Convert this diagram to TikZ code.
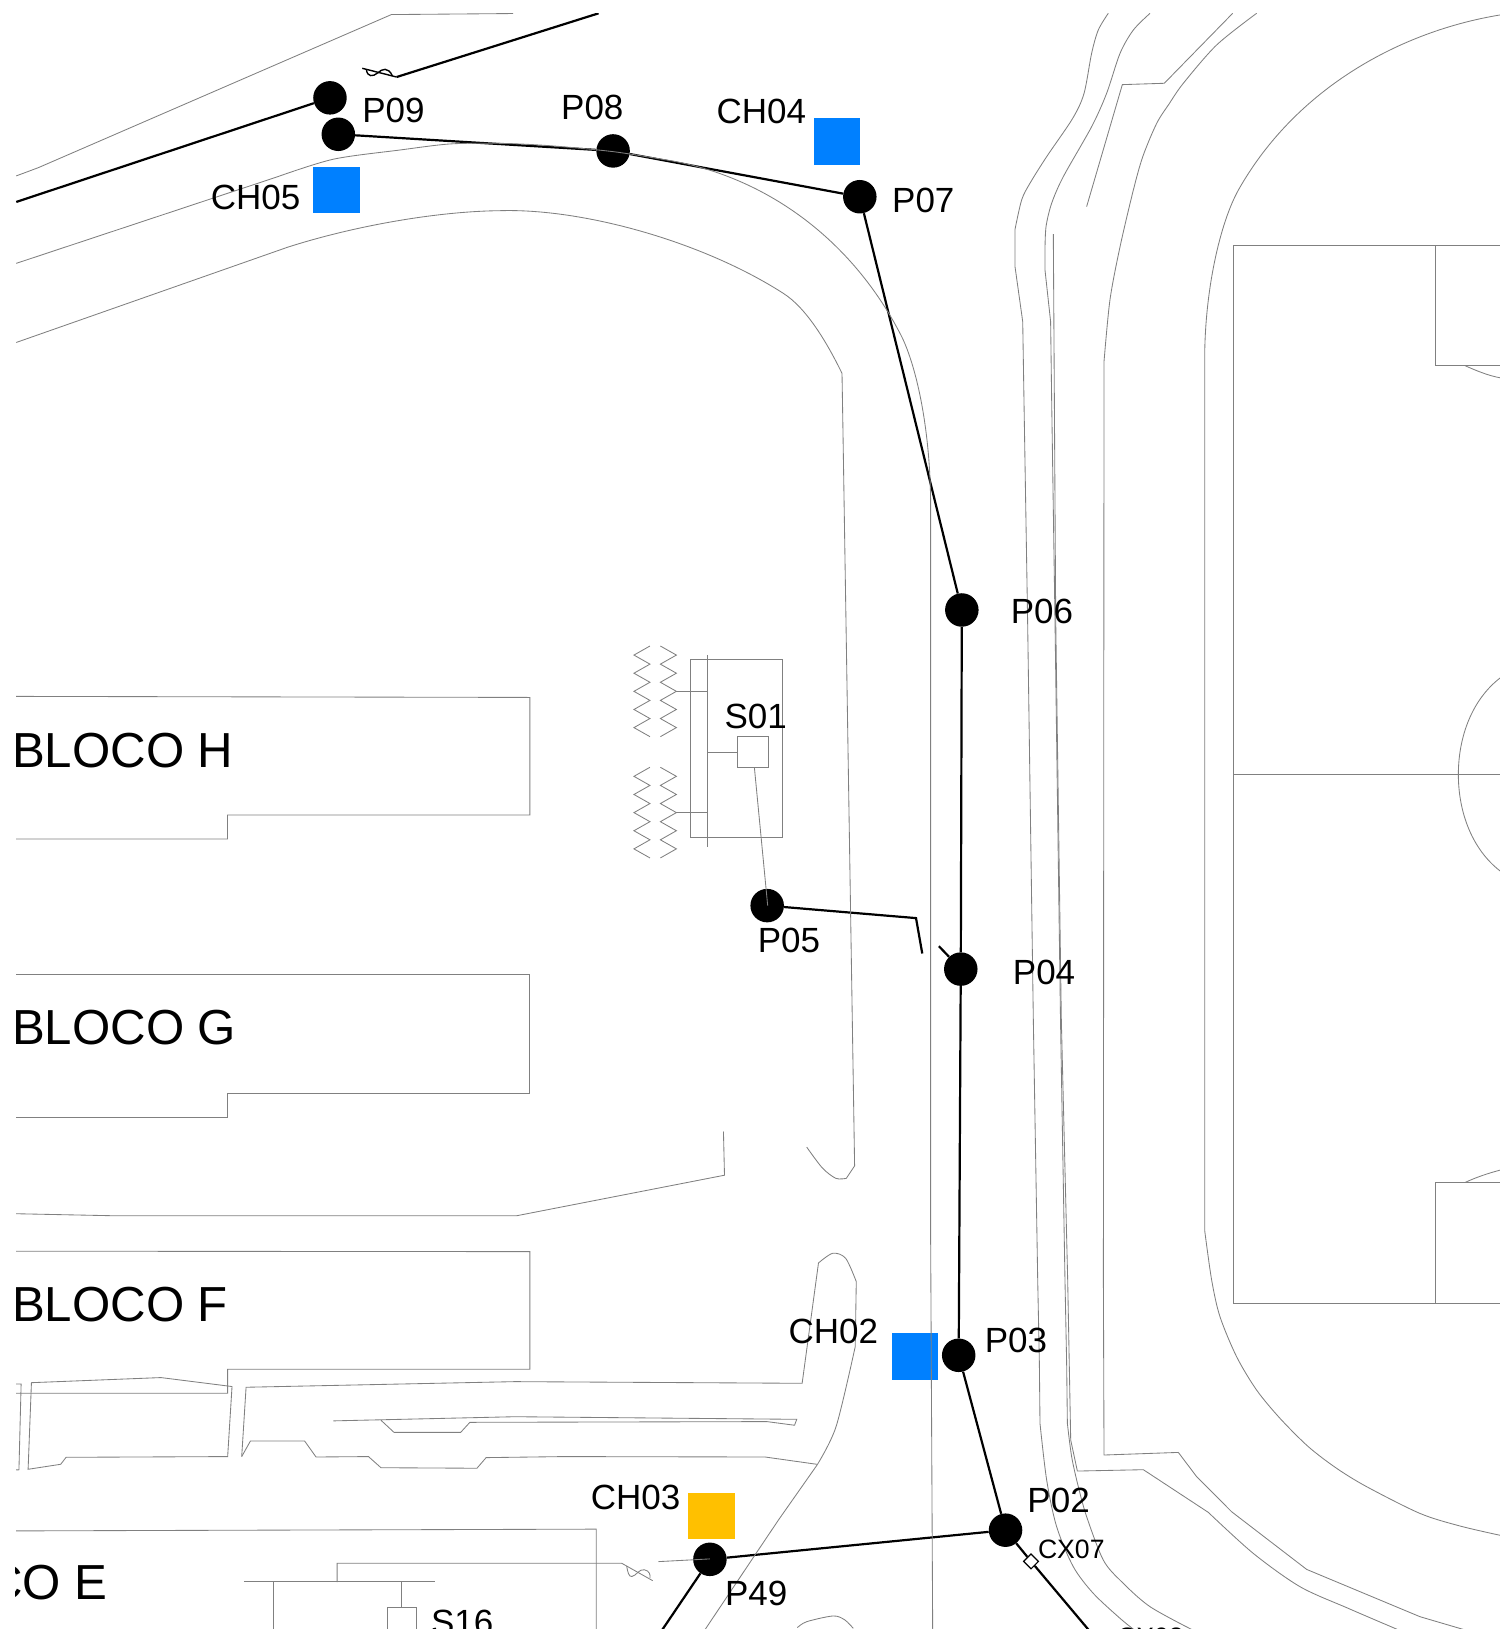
\documentclass[tikz,border=0pt]{standalone}
\usepackage{fontspec}
\setmainfont{Liberation Sans}
\newcommand{\zzdown}{-- ++(-15.4,8.71) -- ++(15.4,8.71) -- ++(-15.4,8.71) -- ++(15.4,8.71) -- ++(-15.4,8.71) -- ++(15.4,8.71) -- ++(-15.4,8.71) -- ++(15.4,8.71) -- ++(-15.4,8.71) -- ++(15.4,8.71)}
\newcommand{\zzup}{-- ++(15.4,8.71) -- ++(-15.4,8.71) -- ++(15.4,8.71) -- ++(-15.4,8.71) -- ++(15.4,8.71) -- ++(-15.4,8.71) -- ++(15.4,8.71) -- ++(-15.4,8.71) -- ++(15.4,8.71) -- ++(-15.4,8.71)}
\definecolor{chblue}{HTML}{0080FF}
\definecolor{chyellow}{HTML}{FFC000}
\tikzset{
  pole/.style={circle,fill=black,draw=none,minimum size=33.5bp,inner sep=0pt},
  chamber/.style={rectangle,draw=none,minimum size=46.5bp,inner sep=0pt},
  cable/.style={draw=black,line width=2.2bp},
  thincable/.style={draw=black,line width=1.4bp},
  base/.style={draw=black!50,line width=0.85bp,line join=miter},
  lbl/.style={font=\fontsize{35bp}{35bp}\selectfont,inner sep=0pt,anchor=base,text=black},
  lblsmall/.style={font=\fontsize{26.6bp}{27bp}\selectfont,inner sep=0pt,anchor=base west,text=black},
  block/.style={font=\fontsize{49.2bp}{50bp}\selectfont,inner sep=0pt,anchor=base west,text=black},
  marker/.style={rectangle,draw=black,fill=white,line width=1.2bp,minimum size=10.5bp,inner sep=0pt,rotate=45},
}
\begin{document}
\begin{tikzpicture}[x=1.04094bp,y=-1.04094bp]
\useasboundingbox (0bp,0bp) rectangle (1500bp,-1632bp);
\begin{scope}
\clip (14.6,12.8) rectangle (1441.5,1564.6);
% chambers
\node[chamber,fill=chblue] (ch05) at (323.5,182.5) {};
\node[chamber,fill=chblue] (ch04) at (804,136) {};
\node[chamber,fill=chblue] (ch02) at (879,1303.3) {};
\node[chamber,fill=chyellow] (ch03) at (683.4,1456.5) {};
% poles
\node[pole] (p09a) at (317,94) {};
\node[pole] (p09b) at (325,129) {};
\node[pole] (p08) at (589,145) {};
\node[pole] (p07) at (826,189) {};
\node[pole] (p06) at (924,586) {};
\node[pole] (p05) at (737,870) {};
\node[pole] (p04) at (923,931) {};
\node[pole] (p03) at (921,1302) {};
\node[pole] (p02) at (966,1470) {};
\node[pole] (p49) at (682,1498) {};
\node[marker] (cx07) at (990.5,1500) {};
% free ends
\coordinate (e1) at (15.6,194);
\coordinate (e2) at (575,12.8);
\coordinate (e3) at (381,74);
\coordinate (e4) at (348,65.6);
\coordinate (e5) at (880,882);
\coordinate (e6) at (886,916);
\coordinate (e7) at (902,909);
\coordinate (e8) at (1046,1566);
\coordinate (e9) at (636,1566);
% cables
\draw[cable] (e1) -- (p09a);
\draw[cable] (e2) -- (e3);
\draw[thincable] (e3) -- (e4);
\draw[thincable] (352,67) .. controls (353,74) and (358,74) .. (363,70) .. controls (367,66) and (373,64) .. (377,73);
\draw[cable] (p09b) -- (p08);
\draw[cable] (p08) -- (p07);
\draw[cable] (p07) -- (p06);
\draw[cable] (p06) -- (p04);
\draw[cable] (p04) -- (p03);
\draw[cable] (p03) -- (p02);
\draw[cable] (p02) -- (p49);
\draw[cable] (p02) -- (cx07);
\draw[cable] (cx07) -- (e8);
\draw[cable] (p49) -- (e9);
\draw[cable] (p05) -- (e5) -- (e6);
\draw[cable] (e7) -- (p04);
% road lines
\draw[base] (15.6,169) -- (37,161) -- (376,14) -- (493,13);
\draw[base] (15.6,253) -- (266,170) plot[smooth] coordinates {(266,170) (320,153) (384.3,144.1) (432.3,138.3) (480.3,137.7) (528.4,140) (589.2,145.7) (640.4,153.7)} .. controls (730,168) and (815,225) .. (864.6,320.2) .. controls (877,343) and (893,400) .. (894,480) -- (894,1182) -- (896,1566);
\draw[base] (15.6,329) -- (276,237.6) .. controls (340,217) and (420,203) .. (480.3,202.4) .. controls (560,200) and (675,232) .. (752.5,281.8) .. controls (775,296) and (795,330) .. (808.9,358.7) -- (809.8,413) -- (821,1120) -- (813,1132) plot[smooth] coordinates {(813,1132) (803,1132) (790,1122) (775,1102)};
\draw[base] plot[smooth] coordinates {(1064.7,12.8) (1055.1,28.8) (1048.7,51.2) (1041.4,89.7) (1030.5,113.7) (1005.5,150.5) (989.5,176) (981.5,192) (975.1,220.3)} -- (975.1,256.2) -- (982.5,309) -- (983.7,384) -- (987.2,595.6) -- (992.7,980) -- (996.9,1229.7) -- (998.5,1309.8) -- (999.1,1367.4) plot[smooth] coordinates {(999.1,1367.4) (1005.5,1421.8) (1015.1,1466.7) (1031.1,1505.1) (1050.3,1530.7) (1076,1554.7) (1090,1566)};
\draw[base] plot[smooth] coordinates {(1104.8,12.8) (1088.8,28.8) (1076,51.2) (1063.1,89.7) (1048.7,121.7) (1021.5,169.7) (1010.3,195.3) (1004.9,217.7) (1003.9,240.2)} -- (1003.9,259.4) -- (1009.3,309) -- (1010.3,384) -- (1013.5,595.6) -- (1018.8,980) -- (1023.1,1229.7) -- (1024.7,1309.8) -- (1025.4,1367.4) plot[smooth] coordinates {(1025.4,1367.4) (1029.5,1399.4) (1035.9,1428.2) (1043.9,1457) (1059.9,1498.7) (1077.5,1519.5) (1104.8,1543.5) (1146,1566)};
\draw[base] (1011.9,224.8) -- (1012.9,384) -- (1014.2,595.6) -- (1019.6,980) -- (1025.7,1229.7) -- (1028.6,1383.4) -- (1035,1413.2) -- (1098.4,1411.9) -- (1160.8,1452.9) plot[smooth] coordinates {(1160.8,1452.9) (1204,1492.3) (1248.9,1524.3) (1295,1545) (1344,1566)};
\draw[base] (1184.2,12.8) -- (1118.5,80) -- (1078.2,81.3) -- (1043.9,198.5);
\draw[base] plot[smooth] coordinates {(1207.2,12.8) (1168.8,43.2) (1136.8,80) (1123,100) (1111.2,118.5) (1098,150) (1088.8,182.5) (1076,237) (1066.3,288.2) (1060.6,347.4)} -- (1060,1229.7) -- (1060.6,1397.8) -- (1132,1395.3) -- (1149.6,1418.6) -- (1183.2,1452.3) -- (1255.3,1507.7) -- (1364.1,1553.1) -- (1408,1566);
\draw[base] (1441.5,14.3) .. controls (1345,30) and (1245,85) .. (1190,182) .. controls (1172,214) and (1157,280) .. (1157.3,347.4) -- (1157.3,1182) plot[smooth] coordinates {(1157.3,1182) (1164,1229.7) (1172,1264.9) (1188,1303.4) (1207.2,1335.4) (1229.7,1362.6) (1256.9,1389.8) (1284.1,1410.6) (1312.9,1428.2) (1364.1,1453.9) (1402.6,1466) (1441.5,1475)};
% pitch
\draw[base] (1441.5,235.4) -- (1184.8,235.4) -- (1184.8,1252) -- (1441.5,1252);
\draw[base] (1184.8,744) -- (1441.5,744);
\draw[base] (1378.9,235.4) -- (1378.9,351.3) -- (1441.5,351.3);
\draw[base] (1407.4,351.3) .. controls (1418,356) and (1430,361) .. (1441.5,363);
\draw[base] (1441.5,1136) -- (1378.9,1136) -- (1378.9,1252);
\draw[base] (1407.4,1136) .. controls (1418,1131) and (1430,1127) .. (1441.5,1124);
\draw[base] (1441.5,651) .. controls (1414,672) and (1401,708) .. (1401,744) .. controls (1401,780) and (1414,816) .. (1441.5,837);
% blocks
\draw[base] (15.6,669) -- (509,670) -- (509,783) -- (218.5,783) -- (218.5,806) -- (15.6,806);
\draw[base] (15.6,936) -- (509,936) -- (509,1050) -- (218.5,1050) -- (218.5,1073) -- (15.6,1073);
\draw[base] (15.6,1202) -- (509,1202.4) -- (509,1315.4) -- (218.7,1315.4) -- (218.7,1338.5) -- (15.6,1338.5);
\draw[base] (695,1087) -- (696,1129) -- (496,1168) -- (112,1168) -- (15.6,1166);
\draw[base] (15.6,1329.5) -- (20.3,1329.5) -- (18.2,1412) -- (15.6,1412.1);
\draw[base] (30.2,1328.3) -- (154.6,1323.4) -- (222.9,1332) -- (218.7,1399.3) -- (63.5,1400) -- (58.3,1406.7) -- (27,1411.5) -- cycle;
\draw[base] (232.2,1399.3) -- (236.4,1332.7) -- (494.7,1327.3) -- (770.6,1328.9) -- (786.3,1213.3) plot[smooth] coordinates {(786.3,1213.3) (800,1204) (812.4,1208.8) (822.6,1231.2)} -- (821.6,1293.7) plot[smooth] coordinates {(821.6,1293.7) (803.2,1370.5) (785,1407.3)} -- (748,1460) -- (725.3,1493.8) -- (677,1566);
\draw[base] (232.2,1399.3) -- (240.6,1384.3) -- (292.6,1384.3) -- (303.6,1399.7) -- (354,1399.3) -- (366,1410) -- (458.2,1410.5) -- (467,1400.3) -- (541.5,1399.3) -- (735,1399.7) -- (784.7,1406.7);
\draw[base] (320.2,1365) -- (494.7,1361) -- (765.4,1363.5) -- (763.3,1369.2) -- (736.8,1365.7) -- (451.4,1366.4) -- (442.6,1376) -- (378.5,1376) -- (366,1364.4);
\draw[base] (15.6,1470.7) -- (572.8,1469) -- (572.8,1566);
\draw[base] (234.3,1519.7) -- (418,1519.7);
\draw[base] (263,1520) -- (263,1566);
\draw[base] (323.9,1520) -- (323.9,1501.8) -- (597.3,1501.8) -- (627,1518.5);
\draw[base] (602,1504.4) .. controls (603,1510) and (604,1515) .. (607,1514.5) .. controls (611,1514) and (614,1507) .. (619,1508) .. controls (624,1509) and (625,1513) .. (624.4,1516);
\draw[base] (632.6,1500.2) -- (682,1497.6);
\draw[base] (385.3,1520) -- (385.3,1544.4);
\draw[base] (371.8,1566) -- (371.8,1544.4) -- (400.4,1544.4) -- (400.4,1566);
\draw[base] plot[smooth] coordinates {(766,1563.6) (775,1557.9) (800.5,1552.4) (811.7,1556.3) (819.7,1564.3)};
% S01 group
\draw[base] (663.5,633.4) rectangle (751.5,804.7);
\draw[base] (679.5,629.2) -- (679.5,814);
\draw[base] (649.4,663.8) -- (679.5,663.8);
\draw[base] (649.4,780.7) -- (679.5,780.7);
\draw[base] (679.5,722.4) -- (708.3,722.4);
\draw[base] (708.3,707.7) rectangle (737.8,737.1);
\draw[base] (724.7,737.1) -- (737.5,870);
\draw[base] (624.4,620.6) \zzdown;
\draw[base] (634.4,620.6) \zzup;
\draw[base] (624.4,737.1) \zzdown;
\draw[base] (634.4,737.1) \zzup;
% labels
\node[lbl] (tp09) at (378,117.3) {P09};
\node[lbl] (tp08) at (569,114.5) {P08};
\node[lbl] (tch04) at (731.5,119) {CH04};
\node[lbl] (tp07) at (887,204) {P07};
\node[lbl] (tch05) at (245.5,201.5) {CH05};
\node[lbl] (tp06) at (1001,598.5) {P06};
\node[lbl] (ts01) at (726,700) {S01};
\node[lbl] (tp05) at (758,915) {P05};
\node[lbl] (tp04) at (1003,945.5) {P04};
\node[lbl] (tch02) at (800.5,1291) {CH02};
\node[lbl] (tp03) at (976,1299.5) {P03};
\node[lbl] (tp02) at (1017,1453) {P02};
\node[lbl] (tch03) at (610.5,1450.5) {CH03};
\node[lbl] (tp49) at (726.5,1542) {P49};
\node[lbl,anchor=base west] (ts16) at (414,1570) {S16};
\node[lblsmall] (tcx07) at (997,1497.5) {CX07};
\node[lblsmall] (tcx08) at (1073,1581.3) {CX08};
\node[block] (bh) at (11.4,737.5) {BLOCO H};
\node[block] (bg) at (11.4,1003.5) {BLOCO G};
\node[block] (bf) at (11.4,1269.5) {BLOCO F};
\node[block] (be) at (-107,1536.4) {BLOCO E};
\end{scope}
\end{tikzpicture}
\end{document}
